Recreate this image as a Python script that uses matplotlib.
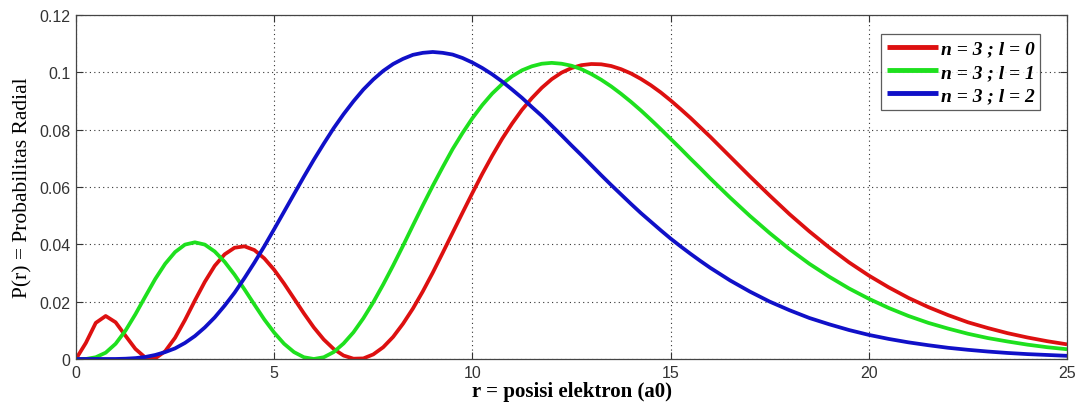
import matplotlib
matplotlib.use("Agg")
import matplotlib.pyplot as plt

# radius (a0) sample points
r_vals = [0, 0.25, 0.5, 0.75, 1.0, 1.25, 1.5, 1.75, 2.0, 2.25, 2.5, 2.75, 3.0, 3.25, 3.5, 3.75,
          4.0, 4.25, 4.5, 4.75, 5.0, 5.25, 5.5, 5.75, 6.0, 6.25, 6.5, 6.75, 7.0, 7.25, 7.5, 7.75,
          8.0, 8.25, 8.5, 8.75, 9.0, 9.25, 9.5, 9.75, 10.0, 10.25, 10.5, 10.75, 11.0, 11.25,
          11.5, 11.75, 12.0, 12.25, 12.5, 12.75, 13.0, 13.25, 13.5, 13.75, 14.0, 14.25, 14.5,
          14.75, 15.0, 15.25, 15.5, 15.75, 16.0,
          16.5, 17.0, 17.5, 18.0, 18.5, 19.0, 19.5, 20.0, 20.5, 21.0, 21.5, 22.0,
          22.5, 23.0, 23.5, 24.0, 24.5, 25.0]

p_l0 = [0.0, 0.0056, 0.0126, 0.0150, 0.0128, 0.0081, 0.0035, 0.0005, 0.0002, 0.0027, 0.0074,
        0.0136, 0.0204, 0.0269, 0.0325, 0.0365, 0.0388, 0.0393, 0.0380, 0.0351, 0.0311, 0.0263,
        0.0211, 0.0159, 0.0110, 0.0068, 0.0035, 0.0012, 0.0001, 0.0002, 0.0016, 0.0041,
        0.0077, 0.0123, 0.0176, 0.0236, 0.0301, 0.0370, 0.0440, 0.0510, 0.0579, 0.0646, 0.0709,
        0.0768, 0.0821, 0.0869, 0.0910, 0.0946, 0.0976, 0.0999, 0.1015, 0.1025, 0.1029, 0.1028,
        0.1022, 0.1011, 0.0996, 0.0977, 0.0955, 0.0930, 0.0902, 0.0872, 0.0841, 0.0808, 0.0775,
        0.0706, 0.0637, 0.0570, 0.0505, 0.0445, 0.0389, 0.0337, 0.0291, 0.0250, 0.0213, 0.0181,
        0.0153, 0.0128, 0.0108, 0.0090, 0.0075, 0.0062, 0.0051]

p_l1 = [0.0, 0.0000, 0.0006, 0.0022, 0.0053, 0.0099, 0.0156, 0.0218, 0.0279, 0.0332, 0.0373,
        0.0399, 0.0407, 0.0399, 0.0375, 0.0339, 0.0294, 0.0243, 0.0190, 0.0138, 0.0092, 0.0053,
        0.0024, 0.0006, 0.0, 0.0006, 0.0024, 0.0054, 0.0093, 0.0142, 0.0198, 0.0260,
        0.0326, 0.0395, 0.0466, 0.0536, 0.0604, 0.0669, 0.0732, 0.0788, 0.0840, 0.0886, 0.0926,
        0.0959, 0.0986, 0.1007, 0.1021, 0.1030, 0.1033, 0.1030, 0.1023, 0.1011, 0.0994, 0.0974,
        0.0951, 0.0925, 0.0897, 0.0867, 0.0835, 0.0802, 0.0768, 0.0734, 0.0699, 0.0665, 0.0630,
        0.0563, 0.0499, 0.0439, 0.0383, 0.0332, 0.0287, 0.0246, 0.0210, 0.0178, 0.0150, 0.0126,
        0.0106, 0.0088, 0.0073, 0.0061, 0.0050, 0.0041, 0.0034]

p_l2 = [0.0, 0.0, 0.0, 0.0000, 0.0000, 0.0001, 0.0003, 0.0007, 0.0014, 0.0024, 0.0037, 0.0056,
        0.0080, 0.0110, 0.0145, 0.0186, 0.0231, 0.0282, 0.0336, 0.0393, 0.0453, 0.0514, 0.0575,
        0.0636, 0.0695, 0.0751, 0.0805, 0.0854, 0.0899, 0.0940, 0.0975, 0.1005,
        0.1029, 0.1047, 0.1061, 0.1068, 0.1071, 0.1068, 0.1062, 0.1050, 0.1034, 0.1015, 0.0993,
        0.0968, 0.0940, 0.0911, 0.0879, 0.0848, 0.0814, 0.0780, 0.0745, 0.0711, 0.0676, 0.0641,
        0.0607, 0.0574, 0.0541, 0.0509, 0.0479, 0.0449, 0.0420, 0.0393, 0.0367, 0.0342, 0.0318,
        0.0274, 0.0235, 0.0200, 0.0170, 0.0143, 0.0121, 0.0101, 0.0084, 0.0070, 0.0058, 0.0048,
        0.0039, 0.0032, 0.0026, 0.0021, 0.0017, 0.0014, 0.0011]

labels = ["n = 3 ; l = 0", "n = 3 ; l = 1", "n = 3 ; l = 2"]
colors = ["#dd1010", "#1ee01e", "#1010c8"]

x_ticks = [0, 5, 10, 15, 20, 25]
y_ticks = [0, 0.02, 0.04, 0.06, 0.08, 0.1, 0.12]
y_tick_labels = ["0", "0.02", "0.04", "0.06", "0.08", "0.1", "0.12"]

fig = plt.figure(figsize=(10.82, 4.10), dpi=100)
ax = fig.add_axes([0.0702, 0.122, 0.916, 0.839])

for series, lab, col in zip([p_l0, p_l1, p_l2], labels, colors):
    ax.plot(r_vals, series, color=col, linewidth=2.7, label=lab,
            solid_joinstyle="round", solid_capstyle="butt")

ax.set_xlim(0, 25)
ax.set_ylim(0, 0.12)
ax.set_xticks(x_ticks)
ax.set_xticklabels([str(t) for t in x_ticks])
ax.set_yticks(y_ticks)
ax.set_yticklabels(y_tick_labels)

ax.grid(True, linestyle=(0, (1, 3)), color="#333333", linewidth=0.8)
ax.tick_params(direction="in", length=5, width=0.8, top=True, right=True,
               labelsize=11.5, colors="#333333", pad=4)
for t in ax.get_xticklabels() + ax.get_yticklabels():
    t.set_fontfamily("Liberation Sans")
    t.set_color("#333333")
for s in ax.spines.values():
    s.set_color("#444444")
    s.set_linewidth(0.9)

ax.set_xlabel("r = posisi elektron (a0)", fontfamily="Liberation Serif", fontweight="bold",
              fontsize=15, labelpad=1)
ax.set_ylabel("P(r) = Probabilitas Radial", fontfamily="Liberation Serif",
              fontsize=15.5, labelpad=5)

leg = ax.legend(loc="upper right", bbox_to_anchor=(0.973, 0.945), frameon=True, fancybox=False,
                edgecolor="#333333", handlelength=2.6, handletextpad=0.15, borderpad=0.3,
                labelspacing=0.3, borderaxespad=0.0,
                prop={"family": "Liberation Serif", "weight": "bold", "style": "italic", "size": 14})
leg.get_frame().set_linewidth(0.9)
for line in leg.get_lines():
    line.set_linewidth(3.5)

fig.savefig("out.png", dpi=100, facecolor="white")
